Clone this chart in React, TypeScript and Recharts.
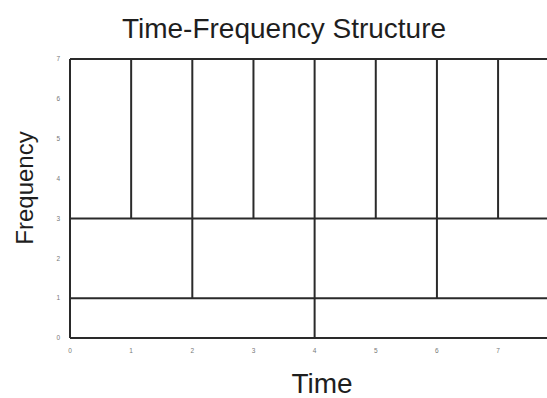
import { LineChart, XAxis, YAxis, ReferenceLine } from "recharts";

// tick values
const timeTicks = [0, 1, 2, 3, 4, 5, 6, 7];
const freqTicks = [0, 1, 2, 3, 4, 5, 6, 7];
const timeMax = 7.8;
const freqMax = 7;

// horizontal boundaries: [y, xFrom, xTo]
const hLines = [
  [0, 0, timeMax],
  [1, 0, timeMax],
  [3, 0, timeMax],
  [7, 0, timeMax],
];

// vertical boundaries: [x, yFrom, yTo]
const vLines = [
  [0, 0, 7],
  [1, 3, 7],
  [2, 3, 7],
  [3, 3, 7],
  [4, 3, 7],
  [5, 3, 7],
  [6, 3, 7],
  [7, 3, 7],
  [2, 1, 3],
  [4, 1, 3],
  [6, 1, 3],
  [4, 0, 1],
];

const lineColor = "#2a2a2a";
const textColor = "#1e1e1e";
const font = "Liberation Sans";
const tickStyle = { fontSize: 6.5, fill: "#777", fontFamily: font };

export default function App() {
  return (
    <div style={{ position: "absolute", left: 0, top: 0, background: "#fff" }}>
      <LineChart
        width={547}
        height={398}
        data={[]}
        margin={{ top: 59, right: 0, left: 0, bottom: 0 }}
        style={{ fontFamily: font }}
      >
        <text
          x={284}
          y={38}
          textAnchor="middle"
          fontSize={28}
          fill={textColor}
          fontFamily={font}
        >
          Time-Frequency Structure
        </text>
        <text
          x={322}
          y={393}
          textAnchor="middle"
          fontSize={28}
          fill={textColor}
          fontFamily={font}
        >
          Time
        </text>
        <text
          transform="translate(33,188) rotate(-90)"
          textAnchor="middle"
          fontSize={24}
          fill={textColor}
          fontFamily={font}
        >
          Frequency
        </text>
        <XAxis
          type="number"
          dataKey="x"
          domain={[0, timeMax]}
          ticks={timeTicks}
          tickLine={false}
          axisLine={false}
          tick={tickStyle}
          tickMargin={4}
          height={60}
          allowDataOverflow
        />
        <YAxis
          type="number"
          dataKey="y"
          domain={[0, freqMax]}
          ticks={freqTicks}
          tickLine={false}
          axisLine={false}
          tick={tickStyle}
          tickMargin={4}
          width={70}
          allowDataOverflow
        />
        {hLines.map(([y, x1, x2], i) => (
          <ReferenceLine
            key={"h" + i}
            segment={[
              { x: x1, y },
              { x: x2, y },
            ]}
            stroke={lineColor}
            strokeWidth={2}
            ifOverflow="visible"
          />
        ))}
        {vLines.map(([x, y1, y2], i) => (
          <ReferenceLine
            key={"v" + i}
            segment={[
              { x, y: y1 },
              { x, y: y2 },
            ]}
            stroke={lineColor}
            strokeWidth={2}
            ifOverflow="visible"
          />
        ))}
      </LineChart>
    </div>
  );
}
